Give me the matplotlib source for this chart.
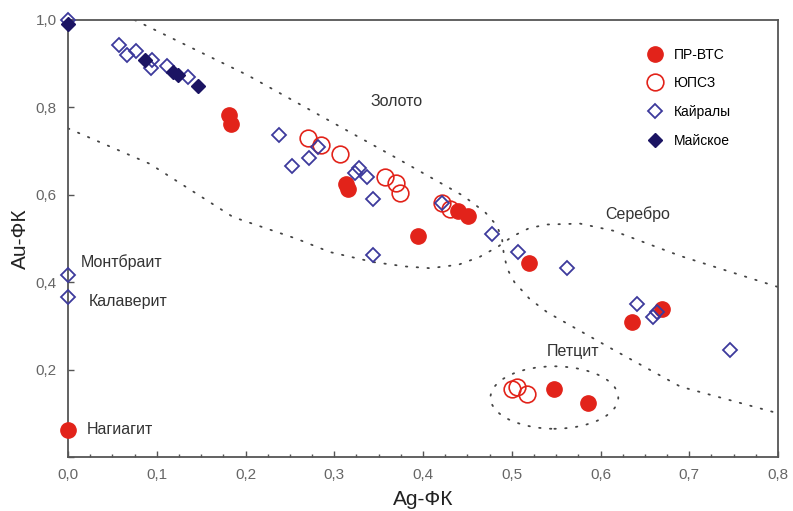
#!/usr/bin/env python3
"""Au-FK vs Ag-FK diagram for gold-silver tellurides."""

import matplotlib

matplotlib.use("Agg")
import matplotlib.pyplot as plt
from matplotlib.patches import Ellipse
from matplotlib.ticker import FuncFormatter, MultipleLocator

# ПР-ВТС (filled red circles)
pr_x = [0.0, 0.181, 0.184, 0.313, 0.315, 0.394, 0.439, 0.451, 0.519, 0.635, 0.669, 0.548, 0.586]
pr_y = [0.062, 0.782, 0.763, 0.625, 0.614, 0.506, 0.563, 0.552, 0.444, 0.308, 0.338, 0.156, 0.124]

# ЮПСЗ (open red circles)
yu_x = [0.270, 0.285, 0.306, 0.357, 0.370, 0.374, 0.421, 0.430, 0.500, 0.506, 0.517]
yu_y = [0.729, 0.713, 0.694, 0.641, 0.628, 0.605, 0.582, 0.568, 0.156, 0.161, 0.143]

# Кайралы (open diamonds)
ka_x = [0.0, 0.057, 0.066, 0.077, 0.095, 0.094, 0.112, 0.135, 0.238, 0.252, 0.272, 0.282,
        0.323, 0.328, 0.337, 0.344, 0.344, 0.421, 0.478, 0.507, 0.562, 0.641, 0.659, 0.664,
        0.746, 0.0, 0.0]
ka_y = [1.0, 0.943, 0.920, 0.929, 0.908, 0.890, 0.894, 0.869, 0.736, 0.667, 0.685, 0.710,
        0.650, 0.661, 0.641, 0.591, 0.462, 0.582, 0.510, 0.469, 0.432, 0.349, 0.320, 0.331,
        0.244, 0.416, 0.366]

# Майское (filled diamonds)
ma_x = [0.0, 0.087, 0.118, 0.124, 0.146]
ma_y = [0.99, 0.908, 0.880, 0.874, 0.848]

# field boundaries (dotted)
lower_x = [0.0, 0.092, 0.186, 0.258, 0.295, 0.344, 0.380, 0.408, 0.440, 0.464, 0.485,
           0.501, 0.520, 0.540, 0.577, 0.614, 0.690, 0.800]
lower_y = [0.752, 0.671, 0.549, 0.499, 0.469, 0.446, 0.436, 0.432, 0.440, 0.458, 0.482,
           0.505, 0.524, 0.532, 0.534, 0.518, 0.460, 0.389]
upper_x = [0.075, 0.202, 0.371, 0.445, 0.470, 0.483, 0.489, 0.491, 0.495, 0.503, 0.520,
           0.540, 0.614, 0.690, 0.800]
upper_y = [1.0, 0.874, 0.683, 0.598, 0.560, 0.530, 0.500, 0.465, 0.430, 0.400, 0.362,
           0.331, 0.246, 0.161, 0.100]
petz_center = (0.548, 0.136)
petz_size = (0.144, 0.143)

field_labels = ["Золото", "Серебро", "Петцит"]
field_x = [0.341, 0.605, 0.539]
field_y = [0.814, 0.556, 0.241]

mineral_labels = ["Монтбраит", "Калаверит", "Нагиагит"]
mineral_x = [0.014, 0.023, 0.021]
mineral_y = [0.446, 0.356, 0.062]

RED = "#e2231a"
BLUE = "#3d3a9c"
NAVY = "#1b1463"
GREY = "#555555"
DOT = "#444444"


def main() -> None:
    plt.rcParams.update(
        {
            "font.family": ["Liberation Sans", "DejaVu Sans"],
            "font.size": 10,
            "axes.edgecolor": GREY,
            "xtick.color": GREY,
            "ytick.color": GREY,
        }
    )
    fig = plt.figure(figsize=(7.93, 5.11), dpi=100)
    ax = fig.add_axes([0.0858, 0.1057, 0.8953, 0.8552])

    dotted = (0, (0.8, 5.2))
    ax.plot(lower_x, lower_y, color=DOT, lw=1.3, ls=dotted, dash_capstyle="round", zorder=1)
    ax.plot(upper_x, upper_y, color=DOT, lw=1.3, ls=dotted, dash_capstyle="round", zorder=1)
    ax.add_patch(
        Ellipse(petz_center, petz_size[0], petz_size[1], fill=False, edgecolor=DOT,
                lw=1.3, ls=dotted, capstyle="round", zorder=1)
    )

    ax.plot(pr_x, pr_y, "o", ms=11, color=RED, mec=RED, ls="none", label="ПР-ВТС",
            zorder=3, clip_on=False)
    ax.plot(yu_x, yu_y, "o", ms=12, mfc="none", mec=RED, mew=1.2, ls="none", label="ЮПСЗ",
            zorder=4, clip_on=False)
    ax.plot(ka_x, ka_y, "D", ms=7.5, mfc="none", mec=BLUE, mew=1.3, ls="none", label="Кайралы",
            zorder=5, clip_on=False)
    ax.plot(ma_x, ma_y, "D", ms=7.5, color=NAVY, mec=NAVY, ls="none", label="Майское",
            zorder=6, clip_on=False)

    for text, x, y in zip(field_labels, field_x, field_y):
        ax.text(x, y, text, fontsize=11.5, color="#333333", ha="left", va="center")
    for text, x, y in zip(mineral_labels, mineral_x, mineral_y):
        ax.text(x, y, text, fontsize=11.5, color="#333333", ha="left", va="center")

    ax.legend(
        loc="upper left",
        bbox_to_anchor=(0.79, 0.965),
        frameon=False,
        fontsize=10,
        labelspacing=1.05,
        handletextpad=0.35,
        markerscale=1.0,
    )

    ax.set_xlim(0, 0.8)
    ax.set_ylim(0, 1.0)
    ax.xaxis.set_major_locator(MultipleLocator(0.1))
    ax.xaxis.set_minor_locator(MultipleLocator(0.025))
    ax.yaxis.set_major_locator(MultipleLocator(0.2))
    ax.xaxis.set_major_formatter(FuncFormatter(lambda v, _: f"{v:.1f}".replace(".", ",")))
    ax.yaxis.set_major_formatter(
        FuncFormatter(lambda v, _: "" if abs(v) < 1e-9 else f"{v:.1f}".replace(".", ","))
    )
    ax.tick_params(direction="in", length=4, width=1, labelsize=11, pad=8, labelcolor="#666666")
    ax.tick_params(which="minor", direction="in", length=2.5, width=1)
    ax.tick_params(axis="y", which="minor", left=False)
    for spine in ax.spines.values():
        spine.set_linewidth(1.3)

    ax.set_xlabel("Ag-ФК", fontsize=15, color="#222222", labelpad=6)
    ax.set_ylabel("Au-ФК", fontsize=15, color="#222222", labelpad=4)

    fig.savefig("out.png", dpi=100)


if __name__ == "__main__":
    main()
